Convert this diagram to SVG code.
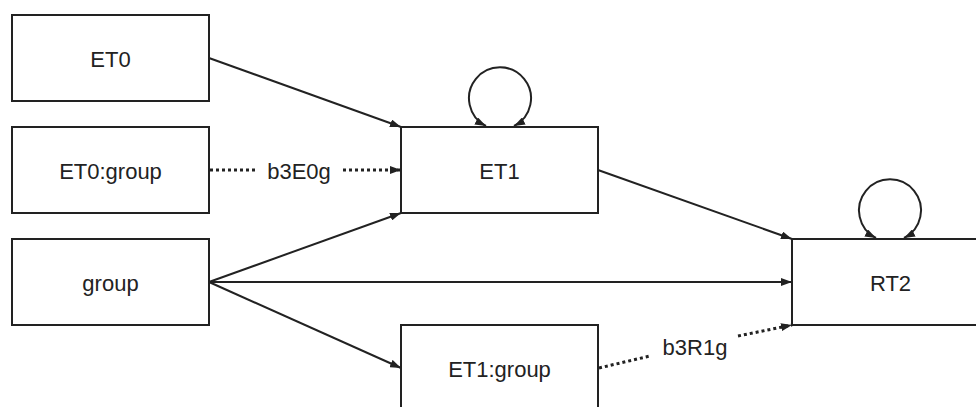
<svg xmlns="http://www.w3.org/2000/svg" width="976" height="407" viewBox="0 0 976 407">
<defs>
<style>
.box{fill:#fff;stroke:#222;stroke-width:2}
.lbl{font-family:"Liberation Sans",Arial,sans-serif;font-size:22px;fill:#222;text-anchor:middle}
.e{fill:none;stroke:#222;stroke-width:2}
.d{fill:none;stroke:#222;stroke-width:3;stroke-dasharray:3 3}
</style>
<marker id="ah" viewBox="0 0 11 8" refX="11" refY="4" markerWidth="11" markerHeight="8" markerUnits="userSpaceOnUse" orient="auto-start-reverse">
<path d="M0,0 L11,4 L0,8 z" fill="#222"/>
</marker>
</defs>
<g id="connectors">
<path class="e" d="M209,58 L401,127" marker-end="url(#ah)"/>
<path class="d" d="M210,170 L256,170"/>
<path class="d" d="M343,170 L401,170" marker-end="url(#ah)"/>
<text class="lbl" x="299" y="179">b3E0g</text>
<path class="e" d="M209,282 L401,213" marker-end="url(#ah)"/>
<path class="e" d="M209,282 L792,282" marker-end="url(#ah)"/>
<path class="e" d="M209,282 L401,368" marker-end="url(#ah)"/>
<path class="e" d="M598,170 L792,239" marker-end="url(#ah)"/>
<path class="d" d="M599,368 L650,356"/>
<path class="d" d="M738,336 L792,325" marker-end="url(#ah)"/>
<text class="lbl" x="695" y="355">b3R1g</text>
<path class="e" d="M486,126 A31,31 0 1 1 514,126" marker-start="url(#ah)" marker-end="url(#ah)"/>
<path class="e" d="M876,238 A31,31 0 1 1 904,238" marker-start="url(#ah)" marker-end="url(#ah)"/>
</g>
<g id="ET0"><rect class="box" x="12" y="15" width="197" height="86"/><text class="lbl" x="110.5" y="67">ET0</text></g>
<g id="ET0group"><rect class="box" x="12" y="127" width="197" height="86"/><text class="lbl" x="110.5" y="179">ET0:group</text></g>
<g id="group"><rect class="box" x="12" y="239" width="197" height="86"/><text class="lbl" x="110.5" y="291">group</text></g>
<g id="ET1"><rect class="box" x="401" y="127" width="197" height="86"/><text class="lbl" x="499.5" y="179">ET1</text></g>
<g id="RT2"><rect class="box" x="792" y="239" width="197" height="86"/><text class="lbl" x="890.5" y="291">RT2</text></g>
<g id="ET1group"><rect class="box" x="401" y="325" width="197" height="86"/><text class="lbl" x="499.5" y="377">ET1:group</text></g>
</svg>
